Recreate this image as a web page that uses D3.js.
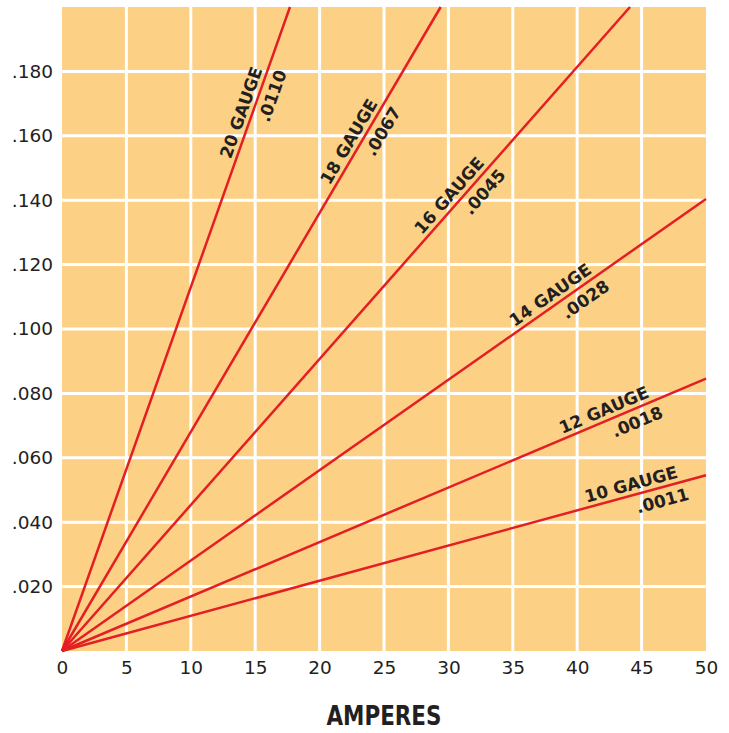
<!DOCTYPE html>
<html lang="en">
<head>
  <meta charset="UTF-8">
  <title>Voltage drop per foot</title>
  <script src="https://d3js.org/d3.v7.min.js"></script>
  <style>
    body { margin: 0; background: #fff; }
    text { fill: #231f20; }
  </style>
</head>
<body>
<script>
// gauges, resistance labels, and where each line leaves the plot (amps, volts)
var gauges = ["20 GAUGE", "18 GAUGE", "16 GAUGE", "14 GAUGE", "12 GAUGE", "10 GAUGE"];
var ratings = [".0110", ".0067", ".0045", ".0028", ".0018", ".0011"];
var endAmps = [17.7, 29.4, 44.1, 50, 50, 50];
var endVolts = [0.200, 0.200, 0.200, 0.1404, 0.0846, 0.0546];
// where along each line (in amps) the label sits
var labelAmps = [14.7, 23.0, 30.7, 38.4, 42.4, 44.4];

var xTicks = [0, 5, 10, 15, 20, 25, 30, 35, 40, 45, 50];
var yTicks = [0.02, 0.04, 0.06, 0.08, 0.10, 0.12, 0.14, 0.16, 0.18];

var width = 729, height = 733;
var margin = {top: 7, right: 23, bottom: 82, left: 62};

var svg = d3.select("body").append("svg")
    .attr("width", width)
    .attr("height", height);

var x = d3.scaleLinear().domain([0, 50]).range([margin.left, width - margin.right]);
var y = d3.scaleLinear().domain([0, 0.2]).range([height - margin.bottom, margin.top]);

svg.append("rect")
    .attr("x", x(0)).attr("y", y(0.2))
    .attr("width", x(50) - x(0)).attr("height", y(0) - y(0.2))
    .attr("fill", "#fcd186");

// grid
svg.append("g").selectAll("line")
  .data(xTicks.slice(1, -1))
  .join("line")
    .attr("x1", d => x(d)).attr("x2", d => x(d))
    .attr("y1", y(0)).attr("y2", y(0.2))
    .attr("stroke", "#fff").attr("stroke-width", 3);

svg.append("g").selectAll("line")
  .data(yTicks)
  .join("line")
    .attr("x1", x(0)).attr("x2", x(50))
    .attr("y1", d => y(d)).attr("y2", d => y(d))
    .attr("stroke", "#fff").attr("stroke-width", 3);

// axes (labels only)
var fmt = d3.format(".3f");
var yAxis = d3.axisLeft(y).tickValues(yTicks).tickSize(0).tickPadding(9)
    .tickFormat(d => fmt(d).replace(/^0/, ""));
var xAxis = d3.axisBottom(x).tickValues(xTicks).tickSize(0).tickPadding(10);

svg.append("g")
    .attr("transform", "translate(" + x(0) + ",0)")
    .call(yAxis)
    .call(g => g.select(".domain").remove())
    .selectAll("text")
    .attr("font-family", "DejaVu Sans").attr("font-size", 18.5).attr("fill", "#231f20");

svg.append("g")
    .attr("transform", "translate(0," + y(0) + ")")
    .call(xAxis)
    .call(g => g.select(".domain").remove())
    .selectAll("text")
    .attr("font-family", "DejaVu Sans").attr("font-size", 18.5).attr("fill", "#231f20");

svg.append("text")
    .attr("x", (x(0) + x(50)) / 2)
    .attr("y", 725)
    .attr("text-anchor", "middle")
    .attr("font-family", "'Liberation Sans Narrow', 'DejaVu Sans Condensed', sans-serif")
    .attr("font-weight", "bold")
    .attr("font-size", 27)
    .attr("textLength", 115)
    .attr("lengthAdjust", "spacingAndGlyphs")
    .text("AMPERES");

// gauge lines
var data = gauges.map((g, i) => ({
  name: g, rating: ratings[i],
  pts: [[0, 0], [endAmps[i], endVolts[i]]],
  at: labelAmps[i]
}));

var line = d3.line().x(d => x(d[0])).y(d => y(d[1]));

svg.append("g").selectAll("path")
  .data(data)
  .join("path")
    .attr("d", d => line(d.pts))
    .attr("fill", "none")
    .attr("stroke", "#e31e24")
    .attr("stroke-width", 2.5);

var labels = svg.append("g").selectAll("g")
  .data(data)
  .join("g")
    .attr("transform", d => {
      var p = d.pts[1];
      var ang = Math.atan2(y(p[1]) - y(0), x(p[0]) - x(0)) * 180 / Math.PI;
      var lx = x(d.at), ly = y(p[1] / p[0] * d.at);
      return "translate(" + lx + "," + ly + ") rotate(" + ang + ")";
    })
    .attr("font-family", "DejaVu Sans")
    .attr("font-weight", "bold")
    .attr("font-size", 17);

labels.append("text")
    .attr("text-anchor", "middle")
    .attr("y", -5)
    .text(d => d.name);

labels.append("text")
    .attr("text-anchor", "middle")
    .attr("x", 26)
    .attr("y", 19)
    .text(d => d.rating);
</script>
</body>
</html>
